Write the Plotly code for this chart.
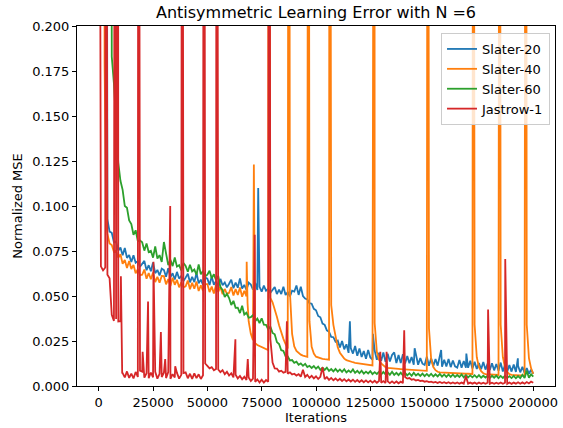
import plotly.graph_objects as go

# Logged iteration grid (every 1000 iterations)
iters = list(range(0, 200001, 1000))

# ---------------- Slater-20 (one row = 10 logged points) ----------------
slater20_y = [
    0.9, 0.9, 0.9, 0.9, 0.0925, 0.0858, 0.0851, 0.0798, 0.0803, 0.0752,
    0.0770, 0.0726, 0.0767, 0.0712, 0.0728, 0.0689, 0.0726, 0.0685, 0.0694, 0.0662,
    0.0677, 0.0695, 0.0643, 0.0671, 0.0638, 0.0686, 0.0627, 0.0645, 0.0614, 0.0652,
    0.0644, 0.0607, 0.0654, 0.0605, 0.0626, 0.0592, 0.0634, 0.0597, 0.0611, 0.0583,
    0.0602, 0.0624, 0.0576, 0.0607, 0.0577, 0.0628, 0.0571, 0.0591, 0.0562, 0.0602,
    0.0596, 0.0561, 0.0609, 0.0562, 0.0584, 0.0552, 0.0595, 0.0560, 0.0575, 0.0548,
    0.0568, 0.0591, 0.0543, 0.0575, 0.0546, 0.0598, 0.0541, 0.0562, 0.0534, 0.0574,
    0.0564, 0.0535, 0.0573, 0.0534, 0.0551, 0.0524, 0.0558, 0.0529, 0.0540, 0.0518,
    0.0533, 0.0550, 0.0511, 0.0536, 0.0511, 0.0552, 0.0506, 0.0521, 0.0498, 0.0529,
    0.0524, 0.0558, 0.0506, 0.0551, 0.0500, 0.0486, 0.0481, 0.0460, 0.0457, 0.0429,
    0.0421, 0.0389, 0.0382, 0.0347, 0.0340, 0.0309, 0.0301, 0.0273, 0.0271, 0.0246,
    0.0252, 0.0214, 0.0250, 0.0204, 0.0232, 0.0184, 0.0211, 0.0180, 0.0222, 0.0168,
    0.0208, 0.0161, 0.0194, 0.0151, 0.0200, 0.0158, 0.0146, 0.0196, 0.0146, 0.0184,
    0.0140, 0.0186, 0.0135, 0.0179, 0.0136, 0.0172, 0.0187, 0.0128, 0.0172, 0.0127,
    0.0176, 0.0125, 0.0166, 0.0126, 0.0161, 0.0118, 0.0171, 0.0118, 0.0155, 0.0124,
    0.0117, 0.0162, 0.0113, 0.0154, 0.0111, 0.0150, 0.0113, 0.0164, 0.0107, 0.0146,
    0.0109, 0.0150, 0.0105, 0.0142, 0.0109, 0.0102, 0.0145, 0.0102, 0.0139, 0.0102,
    0.0101, 0.0140, 0.0097, 0.0134, 0.0095, 0.0128, 0.0093, 0.0134, 0.0091, 0.0124,
    0.0089, 0.0126, 0.0087, 0.0122, 0.0085, 0.0130, 0.0081, 0.0118, 0.0079, 0.0116,
    0.0080, 0.0120, 0.0078, 0.0112, 0.0076, 0.0106, 0.0073, 0.0100, 0.0068, 0.0090,
    0.0068,
]
# spikes / off-grid points
slater20_extra_x = [3400, 3700, 73400, 115600, 126200, 145400, 157600, 169200, 192900]
slater20_extra_y = [0.6, 0.099, 0.110, 0.036, 0.029, 0.021, 0.020, 0.018, 0.0154]

# ---------------- Slater-40 ----------------
slater40_y = [
    0.9, 0.9, 0.9, 0.14, 0.0845, 0.0792, 0.0783, 0.0745, 0.0752, 0.0712,
    0.0732, 0.0679, 0.0700, 0.0655, 0.0695, 0.0650, 0.0673, 0.0626, 0.0649, 0.0616,
    0.0618, 0.0647, 0.0596, 0.0628, 0.0593, 0.0631, 0.0577, 0.0607, 0.0574, 0.0611,
    0.0610, 0.0565, 0.0594, 0.0555, 0.0602, 0.0562, 0.0590, 0.0548, 0.0576, 0.0548,
    0.0554, 0.0586, 0.0538, 0.0573, 0.0540, 0.0580, 0.0528, 0.0560, 0.0528, 0.0566,
    0.0566, 0.0522, 0.0552, 0.0514, 0.0562, 0.0523, 0.0552, 0.0510, 0.0539, 0.0511,
    0.0518, 0.0550, 0.0503, 0.0538, 0.0506, 0.0547, 0.0496, 0.0529, 0.0498, 0.036,
    0.029, 0.0255, 0.0238, 0.0228, 0.0222, 0.0215, 0.0209, 0.0204, 0.0199, 0.049,
    0.0465, 0.0428, 0.0385, 0.0338, 0.0295, 0.0262, 0.0232, 0.0208, 0.052, 0.029,
    0.022, 0.0195, 0.0182, 0.0174, 0.0169, 0.0165, 0.0162, 0.036, 0.0218, 0.018,
    0.0163, 0.0158, 0.0154, 0.0151, 0.0149, 0.0147, 0.0146, 0.045, 0.034, 0.027,
    0.0215, 0.0185, 0.0165, 0.0152, 0.0144, 0.0139, 0.0135, 0.0132, 0.0129, 0.0127,
    0.0125, 0.0122, 0.012, 0.0118, 0.0116, 0.0115, 0.0114, 0.035, 0.019, 0.0145,
    0.0125, 0.0112, 0.0105, 0.0101, 0.0099, 0.0098, 0.0097, 0.0096, 0.0095, 0.0094,
    0.0093, 0.0092, 0.0091, 0.009, 0.0089, 0.0088, 0.0087, 0.0086, 0.0086, 0.0085,
    0.0085, 0.0084, 0.032, 0.015, 0.0105, 0.0088, 0.0079, 0.0076, 0.0075, 0.0074,
    0.0073, 0.0073, 0.0072, 0.0071, 0.0071, 0.007, 0.007, 0.0069, 0.0069, 0.0068,
    0.0068, 0.0067, 0.0067, 0.034, 0.016, 0.0105, 0.0082, 0.0071, 0.0066, 0.0065,
    0.0064, 0.0063, 0.0062, 0.0062, 0.0061, 0.034, 0.016, 0.0102, 0.0078, 0.0066,
    0.0062, 0.0061, 0.006, 0.006, 0.0059, 0.0059, 0.0058, 0.034, 0.0155, 0.0098,
    0.0068,
]
slater40_extra_x = [2400, 2700, 3500, 68100, 68500, 71400, 78200, 87500, 96500, 106300,
                    126900, 151500, 172400, 184500, 196600]
slater40_extra_y = [0.6, 0.179, 0.09, 0.069, 0.046, 0.123, 0.6, 0.6, 0.6, 0.6,
                    0.6, 0.6, 0.6, 0.6, 0.6]

# ---------------- Slater-60 ----------------
slater60_y = [
    0.9, 0.9, 0.9, 0.9, 0.9, 0.9, 0.183, 0.168, 0.142, 0.124,
    0.114, 0.109, 0.100, 0.099, 0.092, 0.090, 0.084, 0.0865, 0.0805, 0.0808,
    0.0799, 0.0752, 0.0792, 0.0744, 0.0751, 0.0713, 0.0775, 0.0708, 0.0727, 0.0689,
    0.0800, 0.0724, 0.0672, 0.0701, 0.0666, 0.0714, 0.0663, 0.0671, 0.0642, 0.0683,
    0.0667, 0.0635, 0.0674, 0.0637, 0.0647, 0.0618, 0.0675, 0.0621, 0.0639, 0.0609,
    0.0619, 0.0640, 0.0598, 0.0621, 0.0588, 0.0612, 0.0549, 0.0534, 0.0494, 0.0512,
    0.0489, 0.0450, 0.0473, 0.0434, 0.0435, 0.0405, 0.0446, 0.0397, 0.0407, 0.0379,
    0.0382, 0.0394, 0.0360, 0.0374, 0.0350, 0.0376, 0.0341, 0.0340, 0.0315, 0.0330,
    0.0295, 0.0287, 0.0244, 0.0233, 0.0199, 0.0195, 0.0165, 0.0164, 0.0142, 0.0144,
    0.0129, 0.0135, 0.0118, 0.0125, 0.0112, 0.0123, 0.0105, 0.0112, 0.0100, 0.0111,
    0.0096, 0.0108, 0.0090, 0.0101, 0.0089, 0.0102, 0.0084, 0.0094, 0.0081, 0.0095,
    0.0080, 0.0092, 0.0079, 0.0093, 0.0075, 0.0086, 0.0076, 0.0092, 0.0073, 0.0084,
    0.0071, 0.0085, 0.0069, 0.0080, 0.0070, 0.0083, 0.0066, 0.0077, 0.0067, 0.0079,
    0.0064, 0.0078, 0.0064, 0.0076, 0.0062, 0.0079, 0.0062, 0.0073, 0.0060, 0.0074,
    0.0059, 0.0073, 0.0059, 0.0071, 0.0057, 0.0074, 0.0058, 0.0068, 0.0056, 0.0069,
    0.0055, 0.0067, 0.0055, 0.0068, 0.0053, 0.0065, 0.0053, 0.0067, 0.0052, 0.0064,
    0.0051, 0.0064, 0.0051, 0.0064, 0.0050, 0.0061, 0.0050, 0.0064, 0.0048, 0.0061,
    0.0048, 0.0059, 0.0048, 0.0060, 0.0047, 0.0060, 0.0046, 0.0057, 0.0047, 0.0057,
    0.0045, 0.0057, 0.0046, 0.0058, 0.0044, 0.0056, 0.0045, 0.0057, 0.0044, 0.0055,
    0.0044, 0.0056, 0.0043, 0.0055, 0.0044, 0.0062, 0.0045, 0.0085, 0.0046, 0.0065,
    0.0052,
]
slater60_extra_x = [5600]
slater60_extra_y = [0.6]

# ---------------- Jastrow-1 ----------------
jastrow1_y = [
    0.6, 0.0665, 0.0642, 0.0658, 0.0618, 0.0598, 0.0395, 0.0362, 0.0372, 0.0358,
    0.036, 0.0072, 0.0048, 0.0081, 0.0045, 0.0069, 0.0042, 0.0078, 0.0050, 0.0085,
    0.0080, 0.0046, 0.0071, 0.0043, 0.0075, 0.0048, 0.0079, 0.0041, 0.0068, 0.0050,
    0.0074, 0.0044, 0.0077, 0.0040, 0.0066, 0.0047, 0.0073, 0.0041, 0.0062, 0.0072,
    0.0076, 0.0043, 0.0068, 0.0040, 0.0070, 0.0044, 0.0065, 0.0039, 0.0060, 0.0125,
    0.0112, 0.0098, 0.0105, 0.0087, 0.0095, 0.0092, 0.0077, 0.0088, 0.0066, 0.0079,
    0.0058, 0.0071, 0.0048, 0.0063, 0.0042, 0.0056, 0.0037, 0.0051, 0.0033, 0.0047,
    0.0028, 0.0041, 0.0023, 0.0037, 0.0020, 0.0035, 0.0019, 0.0033, 0.0024, 0.026,
    0.013, 0.0098, 0.0097, 0.0080, 0.0085, 0.0074, 0.0079, 0.0068, 0.0076, 0.0064,
    0.0068, 0.0058, 0.0066, 0.0052, 0.0090, 0.0050, 0.0062, 0.0045, 0.0057, 0.0042,
    0.0054, 0.0039, 0.0051, 0.0105, 0.0038, 0.0049, 0.0034, 0.0045, 0.0032, 0.0042,
    0.0030, 0.0040, 0.0028, 0.0038, 0.0026, 0.0036, 0.0025, 0.0035, 0.0023, 0.0033,
    0.0022, 0.0032, 0.0021, 0.0031, 0.0020, 0.0030, 0.0019, 0.0029, 0.0018, 0.0028,
    0.0018, 0.0027, 0.0017, 0.0026, 0.0016, 0.0026, 0.0016, 0.0025, 0.0015, 0.0024,
    0.0016, 0.0050, 0.0041, 0.0044, 0.0035, 0.0038, 0.0031, 0.0034, 0.0028, 0.0030,
    0.0024, 0.0027, 0.0022, 0.0024, 0.0019, 0.0023, 0.0017, 0.0022, 0.0016, 0.0021,
    0.0015, 0.0021, 0.0014, 0.0020, 0.0014, 0.0020, 0.0013, 0.0019, 0.0013, 0.0055,
    0.0013, 0.0019, 0.0013, 0.0019, 0.0012, 0.0019, 0.0012, 0.0018, 0.0012, 0.0018,
    0.0012, 0.0018, 0.0012, 0.0018, 0.0012, 0.0019, 0.0012, 0.0018, 0.0012, 0.0019,
    0.0012, 0.0019, 0.0013, 0.0021, 0.0013, 0.0020, 0.0013, 0.0022, 0.0014, 0.0024,
    0.0018,
]
jastrow1_extra_x = [3200, 5500, 7600, 8800, 10200, 10500, 10800, 18300, 20200, 22700,
                    25200, 28600, 30600, 32900, 35200, 38400, 48400, 54300, 62900, 68600,
                    71800, 78400, 86600, 129600, 132500, 140600, 179200, 187100]
jastrow1_extra_y = [0.6, 0.045, 0.6, 0.6, 0.061, 0.036, 0.007, 0.6, 0.019, 0.047,
                    0.069, 0.030, 0.015, 0.100, 0.011, 0.6, 0.6, 0.6, 0.026, 0.015,
                    0.084, 0.6, 0.036, 0.019, 0.019, 0.031, 0.0425, 0.0705]

x_ticks = [0, 25000, 50000, 75000, 100000, 125000, 150000, 175000, 200000]
y_ticks = [0.0, 0.025, 0.05, 0.075, 0.1, 0.125, 0.15, 0.175, 0.2]


def merge(xa, ya, xb, yb):
    pts = sorted(zip(list(xa) + list(xb), list(ya) + list(yb)))
    return [p[0] for p in pts], [p[1] for p in pts]


series = [
    ("Slater-20", "#1f77b4", slater20_y, slater20_extra_x, slater20_extra_y),
    ("Slater-40", "#ff7f0e", slater40_y, slater40_extra_x, slater40_extra_y),
    ("Slater-60", "#2ca02c", slater60_y, slater60_extra_x, slater60_extra_y),
    ("Jastrow-1", "#d62728", jastrow1_y, jastrow1_extra_x, jastrow1_extra_y),
]

fig = go.Figure()
for name, color, ys, ex, ey in series:
    assert len(ys) == len(iters), (name, len(ys))
    assert len(ex) == len(ey), name
    xx, yy = merge(iters, ys, ex, ey)
    fig.add_trace(go.Scatter(x=xx, y=yy, mode="lines", name=name,
                             line=dict(color=color, width=1.8)))

font_family = "DejaVu Sans"
fig.update_layout(
    width=563, height=428,
    margin=dict(l=77, r=5, t=26, b=42),
    paper_bgcolor="white", plot_bgcolor="white",
    font=dict(family=font_family, size=13, color="black"),
    title=dict(text="Antisymmetric Learning Error with N =6", x=0.5, xref="paper",
               y=1 - 12 / 428, yref="container", yanchor="middle", xanchor="center",
               font=dict(size=16, family=font_family, color="black")),
    showlegend=True,
    legend=dict(x=0.9896, y=0.9806, xanchor="right", yanchor="top",
                bgcolor="rgba(255,255,255,0.8)", bordercolor="#cccccc", borderwidth=1,
                font=dict(size=13, family=font_family), itemwidth=30,
                tracegroupgap=0),
)
fig.update_xaxes(
    range=[-10000, 210000], tickvals=x_ticks, ticktext=[str(v) for v in x_ticks],
    ticks="outside", ticklen=4, tickcolor="black", showline=True, linecolor="black",
    linewidth=1, mirror=True, showgrid=False, zeroline=False,
    title=dict(text="Iterations", font=dict(size=13), standoff=4),
)
fig.update_yaxes(
    range=[0, 0.2], tickvals=y_ticks, ticktext=["%.3f" % v for v in y_ticks],
    ticks="outside", ticklen=4, tickcolor="black", showline=True, linecolor="black",
    linewidth=1, mirror=True, showgrid=False, zeroline=False,
    title=dict(text="Normalized MSE", font=dict(size=13), standoff=6),
)

fig.write_html(
    "out.html",
    config={"displayModeBar": False},
    post_script="document.body.style.margin='0';document.body.style.overflow='hidden';",
)
